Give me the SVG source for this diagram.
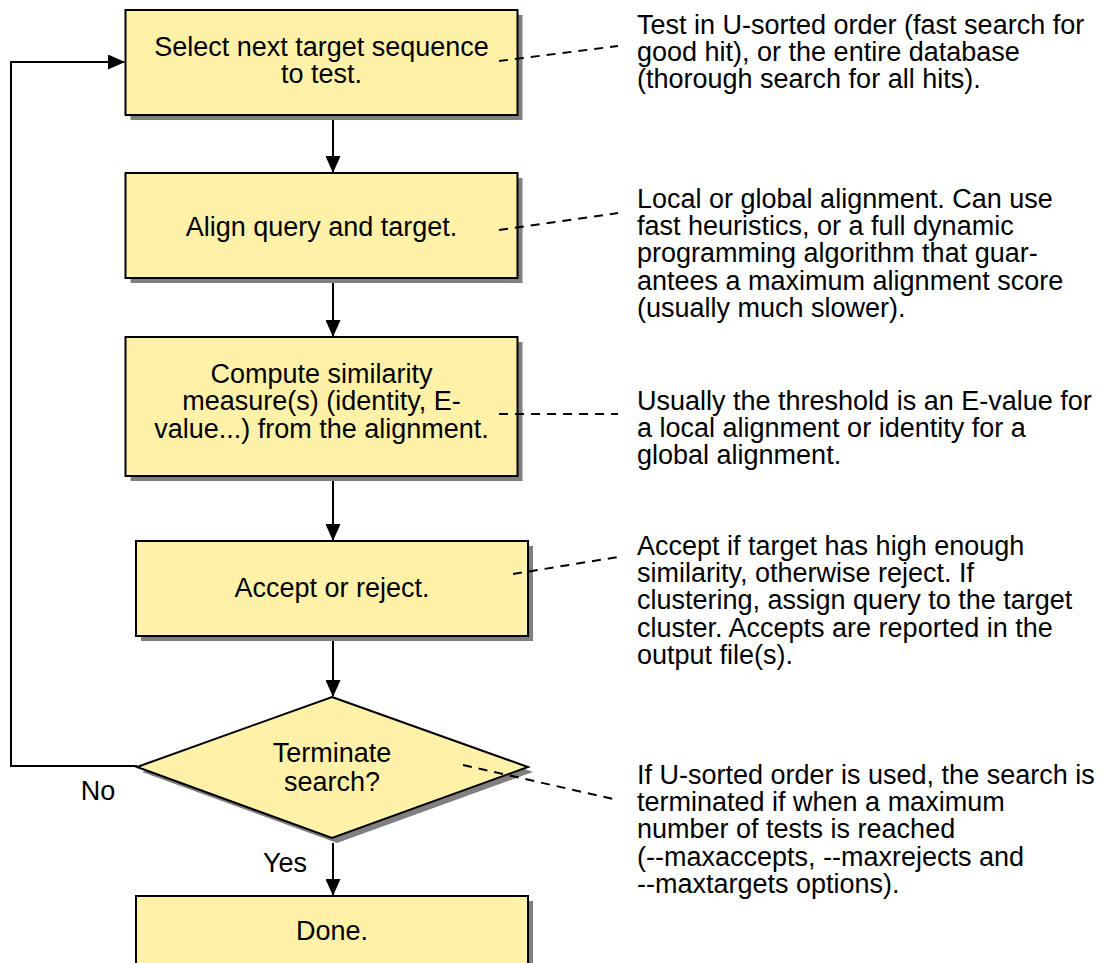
<svg xmlns="http://www.w3.org/2000/svg" width="1105" height="963" viewBox="0 0 1105 963">
<defs>
<style>
.box{fill:#FFF2A8;stroke:#000;stroke-width:2}
.sh{fill:#808080}
.t{font-family:"Liberation Sans",Arial,sans-serif;font-size:27px;fill:#000}
.c{text-anchor:middle}
.ln{fill:none;stroke:#000;stroke-width:2}
.dash{fill:none;stroke:#000;stroke-width:2;stroke-dasharray:9,7}
</style>
<marker id="ah" markerWidth="17" markerHeight="15" refX="16" refY="7.5" orient="auto" markerUnits="userSpaceOnUse">
<path d="M0,0 L17,7.5 L0,15 Z" fill="#000"/>
</marker>
</defs>
<rect width="1105" height="963" fill="#fff"/>

<g id="n1">
<rect class="sh" x="130.5" y="15" width="392" height="105"/>
<rect class="box" x="125.5" y="10" width="392" height="105"/>
<text class="t c" x="321.5" y="56">Select next target sequence</text>
<text class="t c" x="321.5" y="83">to test.</text>
</g>

<g id="n2">
<rect class="sh" x="130.5" y="178" width="392" height="105"/>
<rect class="box" x="125.5" y="173" width="392" height="105"/>
<text class="t c" x="321.5" y="236">Align query and target.</text>
</g>

<g id="n3">
<rect class="sh" x="130.5" y="342" width="392" height="139"/>
<rect class="box" x="125.5" y="337" width="392" height="139"/>
<text class="t c" x="321.5" y="383">Compute similarity</text>
<text class="t c" x="321.5" y="410">measure(s) (identity, E-</text>
<text class="t c" x="321.5" y="437.5">value...) from the alignment.</text>
</g>

<g id="n4">
<rect class="sh" x="141" y="546" width="392" height="95"/>
<rect class="box" x="136" y="541" width="392" height="95"/>
<text class="t c" x="332" y="597">Accept or reject.</text>
</g>

<g id="n5">
<polygon class="sh" points="337,702 533,772 337,843 142,772"/>
<polygon class="box" points="332,697 528,767 332,838 137,767"/>
<text class="t c" x="332" y="762">Terminate</text>
<text class="t c" x="332" y="791">search?</text>
</g>

<g id="n6">
<rect class="sh" x="141" y="901" width="392" height="90"/>
<rect class="box" x="136" y="896" width="392" height="90"/>
<text class="t c" x="332" y="940">Done.</text>
</g>

<g id="connectors">
<line class="ln" x1="333" y1="120" x2="333" y2="172" marker-end="url(#ah)"/>
<line class="ln" x1="333" y1="283" x2="333" y2="336" marker-end="url(#ah)"/>
<line class="ln" x1="333" y1="481" x2="333" y2="540" marker-end="url(#ah)"/>
<line class="ln" x1="333" y1="641" x2="333" y2="696" marker-end="url(#ah)"/>
<line class="ln" x1="333" y1="843" x2="333" y2="895" marker-end="url(#ah)"/>
<polyline class="ln" points="137,766 11,766 11,62 124,62" marker-end="url(#ah)"/>
<line class="dash" x1="499" y1="61" x2="618" y2="46"/>
<line class="dash" x1="499" y1="230" x2="618" y2="213"/>
<line class="dash" x1="499" y1="414" x2="618" y2="414"/>
<line class="dash" x1="513" y1="574" x2="618" y2="557"/>
<line class="dash" x1="463" y1="765" x2="618" y2="800"/>
<text class="t c" x="98" y="800">No</text>
<text class="t c" x="285" y="872">Yes</text>
</g>

<g id="notes">
<text class="t" x="637" y="33.5">Test in U-sorted order (fast search for</text>
<text class="t" x="637" y="61">good hit), or the entire database</text>
<text class="t" x="637" y="88">(thorough search for all hits).</text>

<text class="t" x="637" y="207.5">Local or global alignment. Can use</text>
<text class="t" x="637" y="235">fast heuristics, or a full dynamic</text>
<text class="t" x="637" y="262">programming algorithm that guar-</text>
<text class="t" x="637" y="289.5">antees a maximum alignment score</text>
<text class="t" x="637" y="317">(usually much slower).</text>

<text class="t" x="637" y="409.5">Usually the threshold is an E-value for</text>
<text class="t" x="637" y="437">a local alignment or identity for a</text>
<text class="t" x="637" y="464">global alignment.</text>

<text class="t" x="637" y="554.5">Accept if target has high enough</text>
<text class="t" x="637" y="582">similarity, otherwise reject. If</text>
<text class="t" x="637" y="609">clustering, assign query to the target</text>
<text class="t" x="637" y="636.5">cluster. Accepts are reported in the</text>
<text class="t" x="637" y="664">output file(s).</text>

<text class="t" x="637" y="783.5">If U-sorted order is used, the search is</text>
<text class="t" x="637" y="811">terminated if when a maximum</text>
<text class="t" x="637" y="838">number of tests is reached</text>
<text class="t" x="637" y="865.5">(--maxaccepts, --maxrejects and</text>
<text class="t" x="637" y="893">--maxtargets options).</text>
</g>
</svg>
